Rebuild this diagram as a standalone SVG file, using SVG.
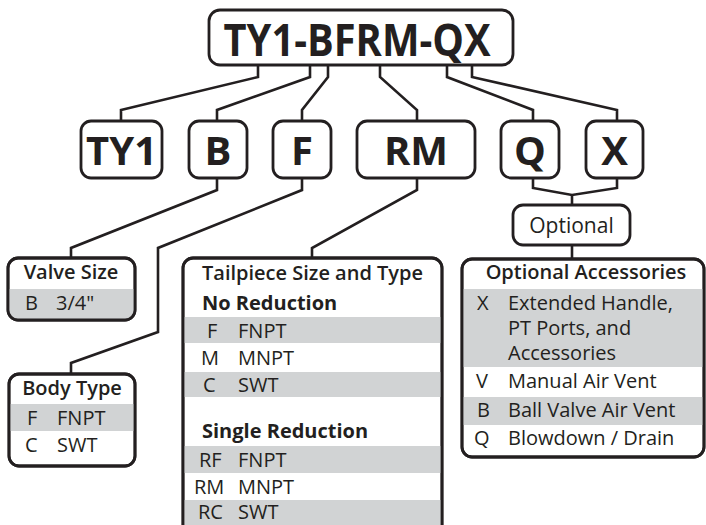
<svg xmlns="http://www.w3.org/2000/svg" width="706" height="525" viewBox="0 0 706 525">
<style>
.box{fill:#fff;stroke:#231f20;stroke-width:2.8}
.frame{fill:none;stroke:#231f20;stroke-width:2.8}
.band{fill:#d1d3d4}
.con{fill:none;stroke:#231f20;stroke-width:2.6;stroke-linejoin:miter}
text{font-family:"Open Sans","Noto Sans","Liberation Sans",sans-serif;fill:#231f20}
.big{font-weight:700;font-size:40px;text-anchor:middle}
.top{font-weight:700;font-size:44px;text-anchor:middle}
.hd{font-weight:600;font-size:20px}
.t{font-size:20px}
.opt{font-size:21px}
.b{font-weight:700;font-size:20px}
.c{text-anchor:middle}
</style>
<defs>
<clipPath id="cVS"><rect x="8" y="258" width="127" height="62" rx="10"/></clipPath>
<clipPath id="cTP"><rect x="183" y="258" width="259" height="290" rx="10"/></clipPath>
<clipPath id="cOA"><rect x="462" y="259" width="242" height="198" rx="10"/></clipPath>
</defs>

<g id="connectors">
<path class="con" d="M258,65 V77 L121,110 V121"/>
<path class="con" d="M310,65 V77 L217,110 V121"/>
<path class="con" d="M328,65 V77 L302,110 V121"/>
<path class="con" d="M380,65 V77 L417,110 V121"/>
<path class="con" d="M447,65 V77 L533,110 V121"/>
<path class="con" d="M472,65 V77 L617,110 V121"/>
<path class="con" d="M217,178 V190 L71,248 V258"/>
<path class="con" d="M302,178 V190 L158,248 V332 L71,363 V374"/>
<path class="con" d="M417,178 V190 L312,248 V258"/>
<path class="con" d="M533,178 V188 L572,195 L617,188 V178"/>
<path class="con" d="M572,195 V205"/>
<path class="con" d="M572,245 V259"/>
</g>

<g id="top-code">
<rect class="box" x="209" y="10" width="304" height="55" rx="11"/>
<text class="top" x="357" y="56" textLength="267" lengthAdjust="spacingAndGlyphs">TY1-BFRM-QX</text>
</g>

<g id="node-TY1"><rect class="box" x="81" y="121" width="81" height="57" rx="10"/><text class="big" x="121.5" y="165">TY1</text></g>
<g id="node-B"><rect class="box" x="189" y="121" width="58" height="57" rx="10"/><text class="big" x="218" y="165">B</text></g>
<g id="node-F"><rect class="box" x="273" y="121" width="58" height="57" rx="10"/><text class="big" x="302" y="165">F</text></g>
<g id="node-RM"><rect class="box" x="357" y="121" width="118" height="57" rx="10"/><text class="big" x="416" y="165">RM</text></g>
<g id="node-Q"><rect class="box" x="501" y="121" width="58" height="57" rx="10"/><text class="big" x="530" y="165">Q</text></g>
<g id="node-X"><rect class="box" x="586" y="121" width="57" height="57" rx="10"/><text class="big" x="614.5" y="165">X</text></g>

<g id="node-optional">
<rect class="box" x="513" y="205" width="117" height="40" rx="10"/>
<text class="opt c" x="571.5" y="233">Optional</text>
</g>

<g id="valve-size">
<rect class="box" x="8" y="258" width="127" height="62" rx="10"/>
<g clip-path="url(#cVS)"><rect class="band" x="8" y="289" width="127" height="31"/></g>
<rect class="frame" x="8" y="258" width="127" height="62" rx="10"/>
<text class="hd c" x="71" y="279">Valve Size</text>
<text class="t" x="25" y="310">B</text><text class="t" x="56" y="310">3/4"</text>
</g>

<g id="body-type">
<rect class="box" x="9" y="374" width="126" height="92" rx="10"/>
<rect class="band" x="10" y="404" width="124" height="27"/>
<rect class="frame" x="9" y="374" width="126" height="92" rx="10"/>
<text class="hd c" x="72" y="395">Body Type</text>
<text class="t" x="27" y="425">F</text><text class="t" x="57" y="425">FNPT</text>
<text class="t" x="25" y="452">C</text><text class="t" x="57" y="452">SWT</text>
</g>

<g id="tailpiece">
<rect class="box" x="183" y="258" width="259" height="290" rx="10"/>
<g clip-path="url(#cTP)">
<rect class="band" x="183" y="317" width="259" height="26"/>
<rect class="band" x="183" y="372" width="259" height="25"/>
<rect class="band" x="183" y="446" width="259" height="27"/>
<rect class="band" x="183" y="500" width="259" height="48"/>
</g>
<rect class="frame" x="183" y="258" width="259" height="290" rx="10"/>
<text class="hd" x="202" y="280">Tailpiece Size and Type</text>
<text class="b" x="202" y="310">No Reduction</text>
<text class="t" x="207" y="338">F</text><text class="t" x="238" y="338">FNPT</text>
<text class="t" x="201" y="365">M</text><text class="t" x="238" y="365">MNPT</text>
<text class="t" x="203" y="392">C</text><text class="t" x="238" y="392">SWT</text>
<text class="b" x="202" y="438">Single Reduction</text>
<text class="t" x="199" y="467">RF</text><text class="t" x="238" y="467">FNPT</text>
<text class="t" x="194" y="494">RM</text><text class="t" x="238" y="494">MNPT</text>
<text class="t" x="198" y="519">RC</text><text class="t" x="238" y="519">SWT</text>
</g>

<g id="optional-accessories">
<rect class="box" x="462" y="259" width="242" height="198" rx="10"/>
<g clip-path="url(#cOA)">
<rect class="band" x="462" y="289" width="242" height="78"/>
<rect class="band" x="462" y="397" width="242" height="28"/>
</g>
<rect class="frame" x="462" y="259" width="242" height="198" rx="10"/>
<text class="hd c" x="586" y="279">Optional Accessories</text>
<text class="t" x="477" y="310">X</text><text class="t" x="508" y="310">Extended Handle,</text>
<text class="t" x="508" y="335">PT Ports, and</text>
<text class="t" x="508" y="360">Accessories</text>
<text class="t" x="476" y="388">V</text><text class="t" x="508" y="388">Manual Air Vent</text>
<text class="t" x="477" y="417">B</text><text class="t" x="508" y="417">Ball Valve Air Vent</text>
<text class="t" x="474" y="445">Q</text><text class="t" x="508" y="445">Blowdown / Drain</text>
</g>
</svg>
